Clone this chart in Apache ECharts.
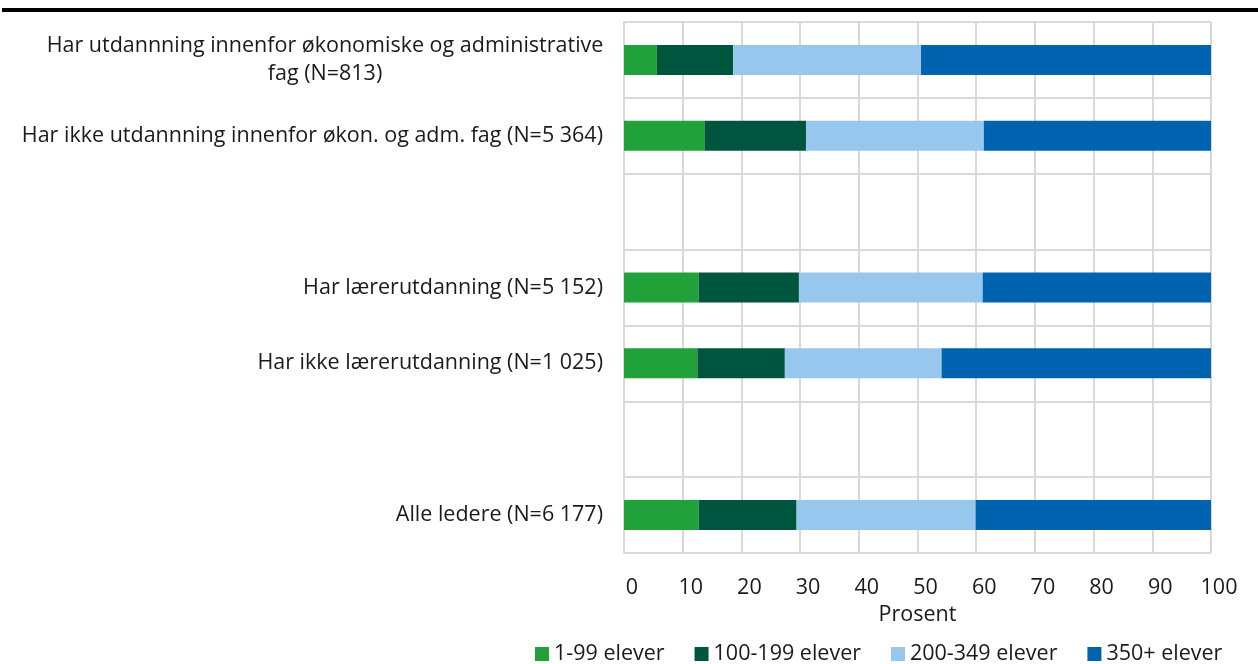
<!DOCTYPE html>
<html>
<head>
<meta charset="utf-8">
<script src="https://cdn.jsdelivr.net/npm/echarts@6/dist/echarts.min.js"></script>
<style>
  html, body { margin: 0; padding: 0; background: #fff; }
  #chart { width: 1258px; height: 664px; }
</style>
</head>
<body>
<div id="chart"></div>
<script>
// rows from top to bottom, blank rows are spacers
const categories = [
  "Har utdannning innenfor økonomiske og administrative\nfag (N=813)",
  "Har ikke utdannning innenfor økon. og adm. fag (N=5 364)",
  " ",
  "Har lærerutdanning (N=5 152)",
  "Har ikke lærerutdanning (N=1 025)",
  "  ",
  "Alle ledere (N=6 177)"
];
const seriesNames = ["1-99 elever", "100-199 elever", "200-349 elever", "350+ elever"];
const v1to99 = [5.6, 13.7, null, 12.7, 12.5, null, 12.7];
const v100to199 = [13.0, 17.3, null, 17.1, 14.9, null, 16.7];
const v200to349 = [32.0, 30.3, null, 31.3, 26.7, null, 30.5];
const v350plus = [49.4, 38.7, null, 38.9, 45.9, null, 40.1];
const xTicks = [0, 10, 20, 30, 40, 50, 60, 70, 80, 90, 100];

const colors = ["#21A139", "#00553F", "#97C7EC", "#0063AF"];
const font = "'Open Sans', 'Noto Sans', sans-serif";
const fs = 21.5;

let chart = echarts.init(document.getElementById("chart"));

let option = {
  color: colors,
  backgroundColor: "#fff",
  animation: false,
  textStyle: { fontFamily: font },
  graphic: [
    {
      type: "rect",
      shape: { x: 2, y: 8, width: 1256, height: 4 },
      style: { fill: "#000" },
    },
  ],
  legend: {
    left: 535,
    bottom: -1,
    padding: 0,
    itemWidth: 14,
    itemHeight: 14,
    itemGap: 30,
    icon: "rect",
    textStyle: { fontSize: fs, color: "#1a1a1a", fontFamily: font },
    data: seriesNames,
  },
  grid: {
    left: 624,
    right: 47,
    top: 22,
    bottom: 111,
  },
  xAxis: {
    type: "value",
    min: xTicks[0],
    max: xTicks[xTicks.length - 1],
    interval: 10,
    name: "Prosent",
    nameLocation: "middle",
    nameGap: 50,
    nameTextStyle: { fontSize: fs, color: "#1a1a1a", fontFamily: font },
    axisLine: { show: false },
    axisTick: { show: false },
    axisLabel: {
      fontSize: fs,
      color: "#1a1a1a",
      margin: 24,
      padding: [0, 0, 0, 16],
      fontFamily: font,
    },
    splitLine: { lineStyle: { color: "#d9d9d9", width: 2 } },
  },
  yAxis: {
    type: "category",
    inverse: true,
    data: categories,
    axisLine: { lineStyle: { color: "#d9d9d9", width: 2 } },
    axisTick: { show: false },
    splitLine: { show: true, lineStyle: { color: "#d9d9d9", width: 2 } },
    axisLabel: {
      fontSize: fs,
      color: "#1a1a1a",
      margin: 21,
      lineHeight: 28,
      fontFamily: font,
      formatter: function (value) {
        if (value.indexOf("\n") >= 0) {
          return value
            .split("\n")
            .map((s) => "{c|" + s + "}")
            .join("\n");
        }
        return value;
      },
      rich: {
        c: {
          width: 556,
          align: "center",
          fontSize: fs,
          lineHeight: 28,
          color: "#1a1a1a",
          fontFamily: font,
        },
      },
    },
  },
  series: [
    { name: seriesNames[0], type: "bar", stack: "all", barWidth: 30, data: v1to99 },
    { name: seriesNames[1], type: "bar", stack: "all", barWidth: 30, data: v100to199 },
    { name: seriesNames[2], type: "bar", stack: "all", barWidth: 30, data: v200to349 },
    { name: seriesNames[3], type: "bar", stack: "all", barWidth: 30, data: v350plus },
  ],
};

chart.setOption(option);
</script>
</body>
</html>
